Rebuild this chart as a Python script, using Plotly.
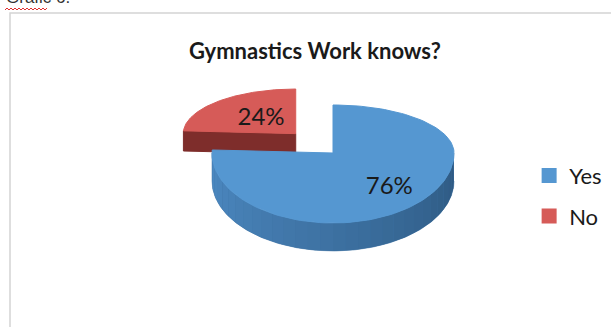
import numpy as np
import plotly.graph_objects as go

# ---- data ----
labels = ["Yes", "No"]
values = [76, 24]
top_colors = ["#5597d1", "#d65b58"]
side_dark = ["#2d5880", "#6f2624"]
side_light = ["#4d8ac3", "#7e2d2b"]
title_text = "Gymnastics Work knows?"
caption_text = "Grafic 6."

# ---- geometry (pixel units of the page) ----
CX, CY = 333, 153
RX, RY_FAR, RY_NEAR = 121, 48, 70
DEPTH = 28
PULL = [0.0, 0.45]
SCALE = [1.0, 0.93]
LABEL_FRAC = [0.68, 0.45]


def pt(theta, cx, cy, s):
    t = np.radians(theta)
    c = np.cos(t)
    ry = RY_FAR if c >= 0 else RY_NEAR
    return cx + s * RX * np.sin(t), cy - s * ry * c


def mix(c1, c2, f):
    a = [int(c1[i:i + 2], 16) for i in (1, 3, 5)]
    b = [int(c2[i:i + 2], 16) for i in (1, 3, 5)]
    return "#" + "".join(f"{int(round(a[k] + (b[k] - a[k]) * f)):02x}" for k in range(3))


total = sum(values)
angles = np.cumsum([0] + [v / total * 360 for v in values])

fig = go.Figure()
label_pos = []

# draw the pulled slice (No) first, then the main slice
order = [1, 0]
for i in order:
    a0, a1 = angles[i], angles[i + 1]
    mid = (a0 + a1) / 2
    ry_pull = (RY_FAR + RY_NEAR) / 2
    cx = CX + PULL[i] * RX * np.sin(np.radians(mid))
    cy = CY - PULL[i] * ry_pull * np.cos(np.radians(mid))
    s = SCALE[i]

    # outer side wall (visible lower half between 90 and 270 deg)
    lo, hi = max(a0, 90), min(a1, 270)
    if hi > lo:
        # base wall in one piece (hides seams), then gradient bands on top
        th = np.linspace(lo, hi, 200)
        top = [pt(t, cx, cy, s) for t in th]
        xs = [p[0] for p in top] + [p[0] for p in top[::-1]]
        ys = [p[1] for p in top] + [p[1] + DEPTH for p in top[::-1]]
        base = mix(side_dark[i], side_light[i], 0.5)
        fig.add_trace(go.Scatter(x=xs, y=ys, fill="toself", fillcolor=base,
                                 mode="lines", line=dict(color=base, width=0.5),
                                 hoverinfo="skip", showlegend=False))
        n = 30
        edges = np.linspace(lo, hi, n + 1)
        for k in range(n):
            th = np.linspace(edges[k], edges[k + 1], 6)
            top = [pt(t, cx, cy, s) for t in th]
            xs = [p[0] for p in top] + [p[0] for p in top[::-1]]
            ys = [p[1] for p in top] + [p[1] + DEPTH for p in top[::-1]]
            f = ((edges[k] + edges[k + 1]) / 2 - 90) / 180.0
            col = mix(side_dark[i], side_light[i], f)
            fig.add_trace(go.Scatter(x=xs, y=ys, fill="toself", fillcolor=col,
                                     mode="lines", line=dict(width=0),
                                     hoverinfo="skip", showlegend=False))

    # cut face along the starting edge (faces the viewer for the pulled slice)
    if i == 1:
        ex, ey = pt(a0, cx, cy, s)
        d = DEPTH * 0.72
        fig.add_trace(go.Scatter(x=[cx, ex, ex, cx, cx], y=[cy, ey, ey + d, cy + d, cy],
                                 fill="toself", fillcolor=side_light[i], mode="lines",
                                 line=dict(color=side_light[i], width=1),
                                 hoverinfo="skip", showlegend=False))

    # top face
    th = np.linspace(a0, a1, 120)
    arc = [pt(t, cx, cy, s) for t in th]
    xs = [cx] + [p[0] for p in arc] + [cx]
    ys = [cy] + [p[1] for p in arc] + [cy]
    fig.add_trace(go.Scatter(x=xs, y=ys, fill="toself", fillcolor=top_colors[i],
                             mode="lines", line=dict(color=top_colors[i], width=1),
                             hoverinfo="skip", showlegend=False))
    lx, ly = pt(mid, cx, cy, s * LABEL_FRAC[i])
    label_pos.append((lx, ly, f"{values[i]}%"))

fig.add_trace(go.Scatter(x=[p[0] for p in label_pos], y=[p[1] for p in label_pos],
                         text=[p[2] for p in label_pos], mode="text",
                         textfont=dict(family="Lato", size=24, color="#1a1a1a"),
                         hoverinfo="skip", showlegend=False))

# legend entries
for i, lab in enumerate(labels):
    fig.add_trace(go.Scatter(x=[None], y=[None], mode="markers", name=lab,
                             legendgroup=lab,
                             marker=dict(symbol="square", size=15, color=top_colors[i])))

fig.update_layout(
    width=611, height=327,
    margin=dict(l=0, r=0, t=0, b=0),
    paper_bgcolor="white", plot_bgcolor="white",
    xaxis=dict(range=[0, 611], visible=False, fixedrange=True),
    yaxis=dict(range=[327, 0], visible=False, fixedrange=True),
    showlegend=True,
    legend=dict(x=0.866, y=0.4, xanchor="left", yanchor="middle",
                font=dict(family="Lato", size=22, color="#1a1a1a"),
                tracegroupgap=9, itemwidth=30, bgcolor="rgba(0,0,0,0)"),
    shapes=[
        dict(type="rect", xref="x", yref="y", x0=10, y0=13, x1=640, y1=360,
             line=dict(color="#d4d4d4", width=1.5), fillcolor="rgba(0,0,0,0)", layer="below"),
        dict(type="path", xref="x", yref="y",
             path="M5,10 L7,8 L9,10 L11,8 L13,10 L15,8 L17,10 L19,8 L21,10 L23,8 L25,10 L27,8 L29,10 "
                  "L31,8 L33,10 L35,8 L37,10 L39,8 L41,10 L43,8 L45,10 L47,8",
             line=dict(color="#e03030", width=1)),
    ],
    annotations=[
        dict(text=f"<b>{title_text}</b>", x=315, y=50, xref="x", yref="y",
             showarrow=False, font=dict(family="Lato", size=22, color="#1a1a1a"),
             xanchor="center", yanchor="middle"),
        dict(text=caption_text, x=4, y=9, xref="x", yref="y", showarrow=False,
             font=dict(family="Liberation Sans", size=17, color="#333333"),
             xanchor="left", yanchor="bottom"),
    ],
)

fig.write_html("out.html")
